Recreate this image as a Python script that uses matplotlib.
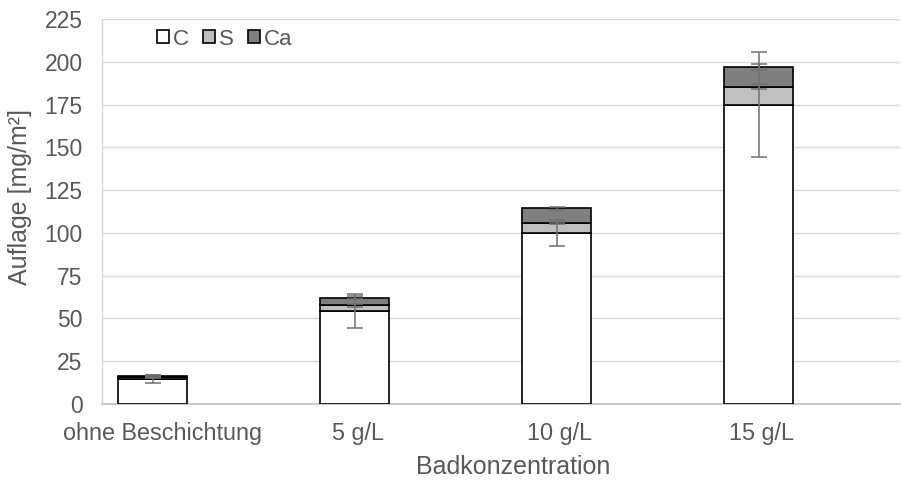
import matplotlib
matplotlib.use("Agg")
import matplotlib.pyplot as plt
import numpy as np

categories = ["ohne Beschichtung", "5 g/L", "10 g/L", "15 g/L"]
C_vals = [14.5, 54.4, 99.9, 174.9]
S_vals = [1.2, 3.3, 6.1, 10.6]
Ca_vals = [0.7, 4.4, 8.4, 11.3]
C_err = [2.5, 9.8, 7.4, 30.8]
S_err = [0.3, 1.0, 0.6, 1.5]
Ca_err = [0.5, 1.0, 0.8, 1.7]
y_ticks = [0, 25, 50, 75, 100, 125, 150, 175, 200, 225]

plt.rcParams['font.family'] = ['Liberation Sans', 'DejaVu Sans']
txt = '#595959'

fig = plt.figure(figsize=(9.01, 4.84), dpi=100)
ax = fig.add_axes([102/901, 80/484, 798/901, 385/484])

x = np.arange(len(categories))
w = 0.342
C = np.array(C_vals); S = np.array(S_vals); Ca = np.array(Ca_vals)
ax.bar(x, C, w, color='white', edgecolor='black', linewidth=1.2, label='C', zorder=3)
ax.bar(x, S, w, bottom=C, color='#bfbfbf', edgecolor='black', linewidth=1.2, label='S', zorder=3)
ax.bar(x, Ca, w, bottom=C+S, color='#7f7f7f', edgecolor='black', linewidth=1.2, label='Ca', zorder=3)

ekw = dict(fmt='none', ecolor='#707070', elinewidth=1.1, capsize=6, capthick=1.1, zorder=4)
ax.errorbar(x, C, yerr=C_err, **ekw)
ax.errorbar(x, C+S, yerr=S_err, **ekw)
ax.errorbar(x, C+S+Ca, yerr=Ca_err, **ekw)

ax.set_xlim(-0.25, 3.70)
ax.set_ylim(0, 225)
ax.set_yticks(y_ticks)
ax.set_xticks(x + np.array([0.047, 0.016, 0.016, 0.016]))
ax.set_xticklabels(categories)
ax.tick_params(axis='x', length=0, pad=13, labelsize=16.8, labelcolor=txt)
ax.tick_params(axis='y', length=0, pad=14, labelsize=16.5, labelcolor=txt)
ax.yaxis.grid(True, color='#d9d9d9', linewidth=1.0, zorder=0)
ax.set_axisbelow(True)
for s in ['top', 'right']:
    ax.spines[s].set_visible(False)
ax.spines['left'].set_color('#d9d9d9')
ax.spines['left'].set_linewidth(1.0)
ax.spines['bottom'].set_color('#bfbfbf')
ax.spines['bottom'].set_linewidth(1.2)

ax.set_xlabel('Badkonzentration', fontsize=18, color=txt)
ax.xaxis.set_label_coords((513-102)/798, -(455-404)/385)
ax.set_ylabel('Auflage [mg/m²]', fontsize=18, color=txt)
ax.yaxis.set_label_coords(-(102-32)/798, (404-197)/385)

leg = ax.legend(loc='upper left', bbox_to_anchor=((150-102)/798, 1 - (22-19)/385), ncol=3, frameon=False,
                fontsize=16, handlelength=0.55, handleheight=0.55, handletextpad=0.2,
                columnspacing=0.6, borderaxespad=0, borderpad=0.3)
for t in leg.get_texts():
    t.set_color(txt)

fig.savefig('out.png', dpi=100)
